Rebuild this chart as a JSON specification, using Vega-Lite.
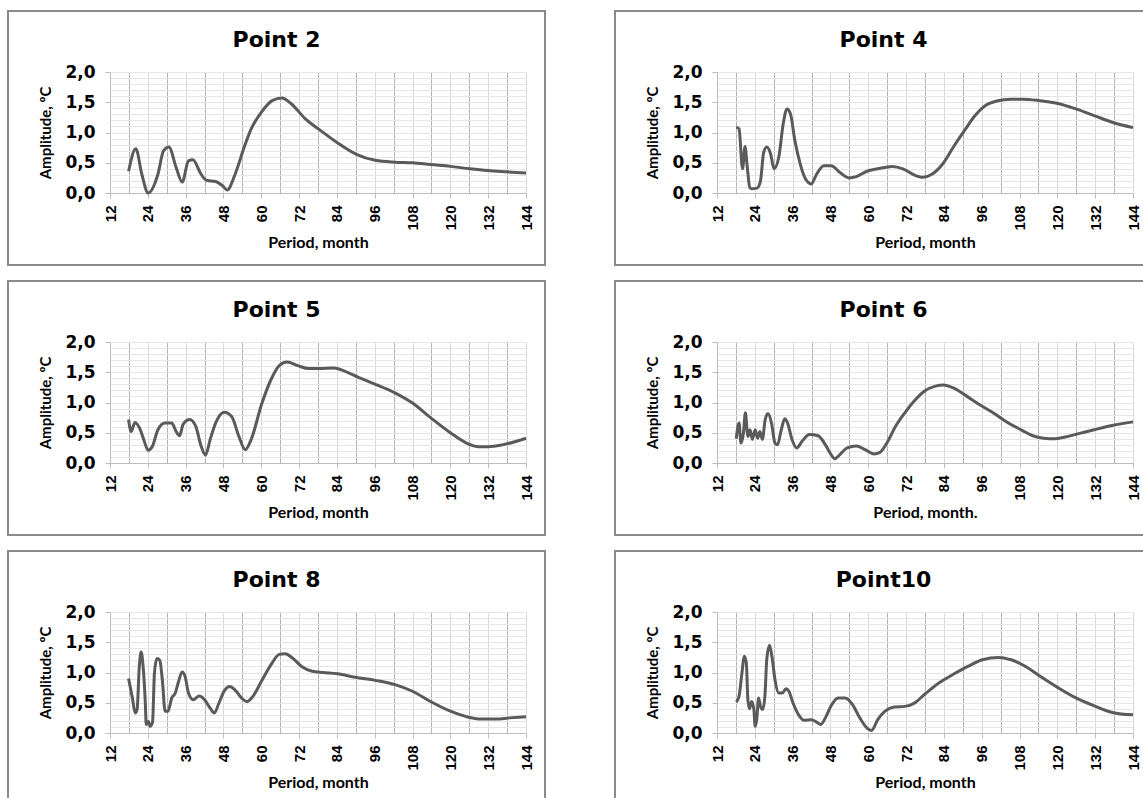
{
  "$schema": "https://vega.github.io/schema/vega-lite/v6.json",
  "background": "white",
  "padding": {"left": 7, "top": 10, "right": 0, "bottom": 0},
  "datasets": {
    "p2": [
      {"period": 17.9, "amp": 0.36}, {"period": 20.2, "amp": 0.73}, {"period": 22.1, "amp": 0.31}, {"period": 24.1, "amp": 0.0},
      {"period": 27.2, "amp": 0.31}, {"period": 29.0, "amp": 0.70}, {"period": 30.7, "amp": 0.76}, {"period": 33.0, "amp": 0.42},
      {"period": 34.9, "amp": 0.18}, {"period": 36.9, "amp": 0.53}, {"period": 38.3, "amp": 0.55}, {"period": 40.9, "amp": 0.31},
      {"period": 42.6, "amp": 0.21}, {"period": 45.5, "amp": 0.19}, {"period": 47.7, "amp": 0.12}, {"period": 49.2, "amp": 0.05},
      {"period": 51.7, "amp": 0.31}, {"period": 54.6, "amp": 0.76}, {"period": 56.8, "amp": 1.06}, {"period": 60.1, "amp": 1.34},
      {"period": 63.6, "amp": 1.53}, {"period": 66.5, "amp": 1.57}, {"period": 69.4, "amp": 1.48}, {"period": 73.9, "amp": 1.23},
      {"period": 78.1, "amp": 1.06}, {"period": 83.9, "amp": 0.84}, {"period": 90.2, "amp": 0.64}, {"period": 96.2, "amp": 0.54},
      {"period": 102.4, "amp": 0.51}, {"period": 108.0, "amp": 0.50}, {"period": 113.7, "amp": 0.47}, {"period": 120.0, "amp": 0.44},
      {"period": 126.2, "amp": 0.40}, {"period": 132.0, "amp": 0.37}, {"period": 138.0, "amp": 0.35}, {"period": 144.0, "amp": 0.33}
    ],
    "p4": [
      {"period": 18.1, "amp": 1.09}, {"period": 19.0, "amp": 1.06}, {"period": 20.1, "amp": 0.40}, {"period": 20.9, "amp": 0.77},
      {"period": 21.6, "amp": 0.43}, {"period": 22.4, "amp": 0.09}, {"period": 23.0, "amp": 0.07}, {"period": 24.7, "amp": 0.08},
      {"period": 25.8, "amp": 0.20}, {"period": 26.8, "amp": 0.67}, {"period": 27.8, "amp": 0.76}, {"period": 29.0, "amp": 0.65},
      {"period": 30.1, "amp": 0.40}, {"period": 31.6, "amp": 0.59}, {"period": 33.0, "amp": 1.14}, {"period": 34.2, "amp": 1.39},
      {"period": 35.3, "amp": 1.31}, {"period": 36.7, "amp": 0.87}, {"period": 38.4, "amp": 0.48}, {"period": 40.1, "amp": 0.23},
      {"period": 41.9, "amp": 0.15}, {"period": 43.6, "amp": 0.31}, {"period": 45.9, "amp": 0.45}, {"period": 48.2, "amp": 0.45},
      {"period": 51.0, "amp": 0.34}, {"period": 53.9, "amp": 0.25}, {"period": 56.2, "amp": 0.27}, {"period": 59.6, "amp": 0.36},
      {"period": 63.0, "amp": 0.40}, {"period": 67.6, "amp": 0.44}, {"period": 71.0, "amp": 0.40}, {"period": 74.5, "amp": 0.30},
      {"period": 77.3, "amp": 0.26}, {"period": 80.2, "amp": 0.31}, {"period": 83.6, "amp": 0.48}, {"period": 87.0, "amp": 0.76},
      {"period": 90.5, "amp": 1.03}, {"period": 93.9, "amp": 1.28}, {"period": 97.3, "amp": 1.45}, {"period": 100.8, "amp": 1.52},
      {"period": 105.3, "amp": 1.55}, {"period": 108.8, "amp": 1.55}, {"period": 113.9, "amp": 1.53}, {"period": 120.2, "amp": 1.48},
      {"period": 125.9, "amp": 1.39}, {"period": 131.7, "amp": 1.28}, {"period": 137.4, "amp": 1.17}, {"period": 144.0, "amp": 1.08}
    ],
    "p5": [
      {"period": 17.9, "amp": 0.72}, {"period": 18.7, "amp": 0.52}, {"period": 19.9, "amp": 0.67}, {"period": 21.6, "amp": 0.55},
      {"period": 22.7, "amp": 0.39}, {"period": 24.1, "amp": 0.21}, {"period": 25.5, "amp": 0.28}, {"period": 27.2, "amp": 0.55},
      {"period": 29.5, "amp": 0.66}, {"period": 31.6, "amp": 0.66}, {"period": 33.0, "amp": 0.52}, {"period": 34.1, "amp": 0.45},
      {"period": 35.2, "amp": 0.64}, {"period": 37.3, "amp": 0.72}, {"period": 39.2, "amp": 0.61}, {"period": 40.9, "amp": 0.28},
      {"period": 42.3, "amp": 0.13}, {"period": 43.8, "amp": 0.39}, {"period": 45.5, "amp": 0.66}, {"period": 48.3, "amp": 0.84},
      {"period": 50.6, "amp": 0.77}, {"period": 52.9, "amp": 0.44}, {"period": 54.9, "amp": 0.22}, {"period": 56.8, "amp": 0.39},
      {"period": 60.1, "amp": 0.97}, {"period": 63.1, "amp": 1.38}, {"period": 65.7, "amp": 1.61}, {"period": 68.2, "amp": 1.67},
      {"period": 71.6, "amp": 1.61}, {"period": 75.0, "amp": 1.56}, {"period": 78.4, "amp": 1.56}, {"period": 83.0, "amp": 1.57},
      {"period": 86.4, "amp": 1.52}, {"period": 91.0, "amp": 1.41}, {"period": 96.2, "amp": 1.30}, {"period": 102.4, "amp": 1.16},
      {"period": 108.0, "amp": 0.99}, {"period": 113.7, "amp": 0.75}, {"period": 120.0, "amp": 0.50}, {"period": 125.1, "amp": 0.33},
      {"period": 129.1, "amp": 0.27}, {"period": 132.0, "amp": 0.27}, {"period": 136.5, "amp": 0.30}, {"period": 144.0, "amp": 0.41}
    ],
    "p6": [
      {"period": 18.1, "amp": 0.40}, {"period": 19.0, "amp": 0.66}, {"period": 19.6, "amp": 0.33}, {"period": 20.4, "amp": 0.50},
      {"period": 21.0, "amp": 0.83}, {"period": 21.8, "amp": 0.44}, {"period": 22.5, "amp": 0.55}, {"period": 23.2, "amp": 0.39},
      {"period": 24.1, "amp": 0.55}, {"period": 24.9, "amp": 0.41}, {"period": 25.6, "amp": 0.52}, {"period": 26.4, "amp": 0.39},
      {"period": 27.3, "amp": 0.72}, {"period": 28.2, "amp": 0.82}, {"period": 29.3, "amp": 0.66}, {"period": 30.4, "amp": 0.33},
      {"period": 31.2, "amp": 0.30}, {"period": 32.4, "amp": 0.55}, {"period": 33.5, "amp": 0.73}, {"period": 34.4, "amp": 0.66},
      {"period": 35.8, "amp": 0.39}, {"period": 37.3, "amp": 0.25}, {"period": 39.0, "amp": 0.36}, {"period": 41.3, "amp": 0.47},
      {"period": 44.1, "amp": 0.45}, {"period": 46.4, "amp": 0.30}, {"period": 48.2, "amp": 0.14}, {"period": 49.3, "amp": 0.07},
      {"period": 51.0, "amp": 0.14}, {"period": 53.3, "amp": 0.25}, {"period": 56.2, "amp": 0.28}, {"period": 59.0, "amp": 0.22},
      {"period": 61.9, "amp": 0.15}, {"period": 63.6, "amp": 0.17}, {"period": 65.9, "amp": 0.33}, {"period": 68.7, "amp": 0.61},
      {"period": 71.6, "amp": 0.83}, {"period": 74.5, "amp": 1.02}, {"period": 77.9, "amp": 1.19}, {"period": 81.3, "amp": 1.27},
      {"period": 83.8, "amp": 1.29}, {"period": 87.0, "amp": 1.24}, {"period": 90.5, "amp": 1.13}, {"period": 95.1, "amp": 0.97},
      {"period": 99.6, "amp": 0.83}, {"period": 104.2, "amp": 0.67}, {"period": 108.8, "amp": 0.54}, {"period": 112.2, "amp": 0.45},
      {"period": 115.6, "amp": 0.41}, {"period": 119.1, "amp": 0.40}, {"period": 122.5, "amp": 0.43}, {"period": 127.1, "amp": 0.49},
      {"period": 131.7, "amp": 0.55}, {"period": 137.4, "amp": 0.62}, {"period": 144.0, "amp": 0.68}
    ],
    "p8": [
      {"period": 17.9, "amp": 0.90}, {"period": 19.1, "amp": 0.58}, {"period": 20.0, "amp": 0.33}, {"period": 20.6, "amp": 0.39},
      {"period": 21.3, "amp": 1.10}, {"period": 21.9, "amp": 1.34}, {"period": 22.5, "amp": 1.10}, {"period": 23.2, "amp": 0.50},
      {"period": 23.5, "amp": 0.14}, {"period": 24.2, "amp": 0.19}, {"period": 24.7, "amp": 0.11}, {"period": 25.5, "amp": 0.18},
      {"period": 26.1, "amp": 0.99}, {"period": 26.9, "amp": 1.23}, {"period": 27.8, "amp": 1.20}, {"period": 28.6, "amp": 0.88},
      {"period": 29.5, "amp": 0.36}, {"period": 30.4, "amp": 0.36}, {"period": 31.6, "amp": 0.58}, {"period": 32.7, "amp": 0.66},
      {"period": 33.8, "amp": 0.86}, {"period": 34.9, "amp": 1.01}, {"period": 35.8, "amp": 0.94}, {"period": 36.9, "amp": 0.66},
      {"period": 38.4, "amp": 0.55}, {"period": 40.3, "amp": 0.61}, {"period": 42.0, "amp": 0.55}, {"period": 43.8, "amp": 0.41},
      {"period": 45.1, "amp": 0.33}, {"period": 46.6, "amp": 0.50}, {"period": 48.3, "amp": 0.70}, {"period": 50.0, "amp": 0.77},
      {"period": 51.7, "amp": 0.71}, {"period": 53.7, "amp": 0.58}, {"period": 55.5, "amp": 0.52}, {"period": 57.4, "amp": 0.61},
      {"period": 60.1, "amp": 0.86}, {"period": 63.1, "amp": 1.13}, {"period": 65.7, "amp": 1.30}, {"period": 67.6, "amp": 1.31},
      {"period": 69.9, "amp": 1.24}, {"period": 72.8, "amp": 1.10}, {"period": 76.2, "amp": 1.02}, {"period": 79.6, "amp": 1.00},
      {"period": 84.2, "amp": 0.98}, {"period": 89.8, "amp": 0.92}, {"period": 96.2, "amp": 0.87}, {"period": 102.4, "amp": 0.80},
      {"period": 108.0, "amp": 0.69}, {"period": 113.7, "amp": 0.52}, {"period": 120.0, "amp": 0.36}, {"period": 125.1, "amp": 0.27},
      {"period": 129.7, "amp": 0.23}, {"period": 134.3, "amp": 0.23}, {"period": 138.8, "amp": 0.25}, {"period": 144.0, "amp": 0.27}
    ],
    "p10": [
      {"period": 18.1, "amp": 0.51}, {"period": 19.0, "amp": 0.61}, {"period": 19.8, "amp": 0.94}, {"period": 20.7, "amp": 1.27},
      {"period": 21.3, "amp": 1.16}, {"period": 21.8, "amp": 0.55}, {"period": 22.3, "amp": 0.40}, {"period": 23.0, "amp": 0.52},
      {"period": 23.7, "amp": 0.39}, {"period": 24.1, "amp": 0.11}, {"period": 24.6, "amp": 0.22}, {"period": 25.2, "amp": 0.58},
      {"period": 25.8, "amp": 0.44}, {"period": 26.5, "amp": 0.39}, {"period": 27.2, "amp": 0.61}, {"period": 27.8, "amp": 1.22},
      {"period": 28.7, "amp": 1.45}, {"period": 29.5, "amp": 1.24}, {"period": 30.4, "amp": 0.88}, {"period": 31.6, "amp": 0.66},
      {"period": 32.7, "amp": 0.66}, {"period": 33.9, "amp": 0.73}, {"period": 34.8, "amp": 0.69}, {"period": 36.1, "amp": 0.50},
      {"period": 37.9, "amp": 0.30}, {"period": 39.6, "amp": 0.21}, {"period": 41.9, "amp": 0.22}, {"period": 43.6, "amp": 0.18},
      {"period": 44.9, "amp": 0.14}, {"period": 46.4, "amp": 0.25}, {"period": 48.2, "amp": 0.45}, {"period": 50.4, "amp": 0.58},
      {"period": 52.7, "amp": 0.58}, {"period": 55.0, "amp": 0.47}, {"period": 57.3, "amp": 0.25}, {"period": 59.6, "amp": 0.08},
      {"period": 61.0, "amp": 0.04}, {"period": 63.0, "amp": 0.22}, {"period": 65.3, "amp": 0.36}, {"period": 68.2, "amp": 0.43},
      {"period": 71.6, "amp": 0.44}, {"period": 74.5, "amp": 0.49}, {"period": 77.9, "amp": 0.64}, {"period": 82.5, "amp": 0.83},
      {"period": 87.0, "amp": 0.97}, {"period": 91.6, "amp": 1.10}, {"period": 96.2, "amp": 1.21}, {"period": 101.3, "amp": 1.25},
      {"period": 105.3, "amp": 1.21}, {"period": 109.9, "amp": 1.10}, {"period": 114.5, "amp": 0.94}, {"period": 120.2, "amp": 0.75},
      {"period": 125.9, "amp": 0.58}, {"period": 131.7, "amp": 0.45}, {"period": 137.4, "amp": 0.34}, {"period": 144.0, "amp": 0.30}
    ]
  },
  "columns": 2,
  "spacing": {"row": 14, "column": 68},
  "concat": [
    {
      "width": 537, "height": 254, "title": {"text": "Point 2"}, "data": {"name": "p2"},
      "resolve": {"axis": {"x": "independent", "y": "independent"}},
      "layer": [
        {"mark": {"type": "line", "interpolate": "monotone", "strokeOpacity": 0},
         "encoding": {
          "x": {"field": "period", "type": "quantitative", "scale": {"domain": [12, 144], "range": [102, 518], "nice": false, "zero": false},
            "axis": {"orient": "top", "offset": 0, "grid": true, "domain": false, "ticks": false, "labels": false, "title": null,
              "values": [12,18,24,30,36,42,48,54,60,66,72,78,84,90,96,102,108,114,120,126,132,138,144],
              "gridColor": {"condition": {"test": "datum.value % 12 === 6", "value": "#b3b3b3"}, "value": "#d9d9d9"}}},
          "y": {"field": "amp", "type": "quantitative", "scale": {"domain": [0, 2], "range": [182, 61], "nice": false},
            "axis": {"orient": "left", "offset": 0, "grid": true, "domain": false, "ticks": false, "labels": false, "title": null,
              "values": [0,0.1,0.2,0.3,0.4,0.5,0.6,0.7,0.8,0.9,1,1.1,1.2,1.3,1.4,1.5,1.6,1.7,1.8,1.9,2], "gridColor": "#e6e6e6"}}}},
        {"mark": {"type": "line", "interpolate": "monotone", "color": "#5a5a5a", "strokeWidth": 3},
         "encoding": {
          "x": {"field": "period", "type": "quantitative", "scale": {"domain": [12, 144], "range": [102, 518], "nice": false, "zero": false},
            "axis": {"orient": "bottom", "offset": -72, "title": "Period, month", "grid": false, "values": [12,24,36,48,60,72,84,96,108,120,132,144]}},
          "y": {"field": "amp", "type": "quantitative", "scale": {"domain": [0, 2], "range": [182, 61], "nice": false},
            "axis": {"orient": "left", "offset": -102, "title": "Amplitude, ºC", "grid": false, "values": [0,0.5,1,1.5,2]}}}}
      ]
    },
    {
      "width": 537, "height": 254, "title": {"text": "Point 4"}, "data": {"name": "p4"},
      "resolve": {"axis": {"x": "independent", "y": "independent"}},
      "layer": [
        {"mark": {"type": "line", "interpolate": "monotone", "strokeOpacity": 0},
         "encoding": {
          "x": {"field": "period", "type": "quantitative", "scale": {"domain": [12, 144], "range": [102, 518], "nice": false, "zero": false},
            "axis": {"orient": "top", "offset": 0, "grid": true, "domain": false, "ticks": false, "labels": false, "title": null,
              "values": [12,18,24,30,36,42,48,54,60,66,72,78,84,90,96,102,108,114,120,126,132,138,144],
              "gridColor": {"condition": {"test": "datum.value % 12 === 6", "value": "#b3b3b3"}, "value": "#d9d9d9"}}},
          "y": {"field": "amp", "type": "quantitative", "scale": {"domain": [0, 2], "range": [182, 61], "nice": false},
            "axis": {"orient": "left", "offset": 0, "grid": true, "domain": false, "ticks": false, "labels": false, "title": null,
              "values": [0,0.1,0.2,0.3,0.4,0.5,0.6,0.7,0.8,0.9,1,1.1,1.2,1.3,1.4,1.5,1.6,1.7,1.8,1.9,2], "gridColor": "#e6e6e6"}}}},
        {"mark": {"type": "line", "interpolate": "monotone", "color": "#5a5a5a", "strokeWidth": 3},
         "encoding": {
          "x": {"field": "period", "type": "quantitative", "scale": {"domain": [12, 144], "range": [102, 518], "nice": false, "zero": false},
            "axis": {"orient": "bottom", "offset": -72, "title": "Period, month", "grid": false, "values": [12,24,36,48,60,72,84,96,108,120,132,144]}},
          "y": {"field": "amp", "type": "quantitative", "scale": {"domain": [0, 2], "range": [182, 61], "nice": false},
            "axis": {"orient": "left", "offset": -102, "title": "Amplitude, ºC", "grid": false, "values": [0,0.5,1,1.5,2]}}}}
      ]
    },
    {
      "width": 537, "height": 254, "title": {"text": "Point 5"}, "data": {"name": "p5"},
      "resolve": {"axis": {"x": "independent", "y": "independent"}},
      "layer": [
        {"mark": {"type": "line", "interpolate": "monotone", "strokeOpacity": 0},
         "encoding": {
          "x": {"field": "period", "type": "quantitative", "scale": {"domain": [12, 144], "range": [102, 518], "nice": false, "zero": false},
            "axis": {"orient": "top", "offset": 0, "grid": true, "domain": false, "ticks": false, "labels": false, "title": null,
              "values": [12,18,24,30,36,42,48,54,60,66,72,78,84,90,96,102,108,114,120,126,132,138,144],
              "gridColor": {"condition": {"test": "datum.value % 12 === 6", "value": "#b3b3b3"}, "value": "#d9d9d9"}}},
          "y": {"field": "amp", "type": "quantitative", "scale": {"domain": [0, 2], "range": [182, 61], "nice": false},
            "axis": {"orient": "left", "offset": 0, "grid": true, "domain": false, "ticks": false, "labels": false, "title": null,
              "values": [0,0.1,0.2,0.3,0.4,0.5,0.6,0.7,0.8,0.9,1,1.1,1.2,1.3,1.4,1.5,1.6,1.7,1.8,1.9,2], "gridColor": "#e6e6e6"}}}},
        {"mark": {"type": "line", "interpolate": "monotone", "color": "#5a5a5a", "strokeWidth": 3},
         "encoding": {
          "x": {"field": "period", "type": "quantitative", "scale": {"domain": [12, 144], "range": [102, 518], "nice": false, "zero": false},
            "axis": {"orient": "bottom", "offset": -72, "title": "Period, month", "grid": false, "values": [12,24,36,48,60,72,84,96,108,120,132,144]}},
          "y": {"field": "amp", "type": "quantitative", "scale": {"domain": [0, 2], "range": [182, 61], "nice": false},
            "axis": {"orient": "left", "offset": -102, "title": "Amplitude, ºC", "grid": false, "values": [0,0.5,1,1.5,2]}}}}
      ]
    },
    {
      "width": 537, "height": 254, "title": {"text": "Point 6"}, "data": {"name": "p6"},
      "resolve": {"axis": {"x": "independent", "y": "independent"}},
      "layer": [
        {"mark": {"type": "line", "interpolate": "monotone", "strokeOpacity": 0},
         "encoding": {
          "x": {"field": "period", "type": "quantitative", "scale": {"domain": [12, 144], "range": [102, 518], "nice": false, "zero": false},
            "axis": {"orient": "top", "offset": 0, "grid": true, "domain": false, "ticks": false, "labels": false, "title": null,
              "values": [12,18,24,30,36,42,48,54,60,66,72,78,84,90,96,102,108,114,120,126,132,138,144],
              "gridColor": {"condition": {"test": "datum.value % 12 === 6", "value": "#b3b3b3"}, "value": "#d9d9d9"}}},
          "y": {"field": "amp", "type": "quantitative", "scale": {"domain": [0, 2], "range": [182, 61], "nice": false},
            "axis": {"orient": "left", "offset": 0, "grid": true, "domain": false, "ticks": false, "labels": false, "title": null,
              "values": [0,0.1,0.2,0.3,0.4,0.5,0.6,0.7,0.8,0.9,1,1.1,1.2,1.3,1.4,1.5,1.6,1.7,1.8,1.9,2], "gridColor": "#e6e6e6"}}}},
        {"mark": {"type": "line", "interpolate": "monotone", "color": "#5a5a5a", "strokeWidth": 3},
         "encoding": {
          "x": {"field": "period", "type": "quantitative", "scale": {"domain": [12, 144], "range": [102, 518], "nice": false, "zero": false},
            "axis": {"orient": "bottom", "offset": -72, "title": "Period, month.", "grid": false, "values": [12,24,36,48,60,72,84,96,108,120,132,144]}},
          "y": {"field": "amp", "type": "quantitative", "scale": {"domain": [0, 2], "range": [182, 61], "nice": false},
            "axis": {"orient": "left", "offset": -102, "title": "Amplitude, ºC", "grid": false, "values": [0,0.5,1,1.5,2]}}}}
      ]
    },
    {
      "width": 537, "height": 254, "title": {"text": "Point 8"}, "data": {"name": "p8"},
      "resolve": {"axis": {"x": "independent", "y": "independent"}},
      "layer": [
        {"mark": {"type": "line", "interpolate": "monotone", "strokeOpacity": 0},
         "encoding": {
          "x": {"field": "period", "type": "quantitative", "scale": {"domain": [12, 144], "range": [102, 518], "nice": false, "zero": false},
            "axis": {"orient": "top", "offset": 0, "grid": true, "domain": false, "ticks": false, "labels": false, "title": null,
              "values": [12,18,24,30,36,42,48,54,60,66,72,78,84,90,96,102,108,114,120,126,132,138,144],
              "gridColor": {"condition": {"test": "datum.value % 12 === 6", "value": "#b3b3b3"}, "value": "#d9d9d9"}}},
          "y": {"field": "amp", "type": "quantitative", "scale": {"domain": [0, 2], "range": [182, 61], "nice": false},
            "axis": {"orient": "left", "offset": 0, "grid": true, "domain": false, "ticks": false, "labels": false, "title": null,
              "values": [0,0.1,0.2,0.3,0.4,0.5,0.6,0.7,0.8,0.9,1,1.1,1.2,1.3,1.4,1.5,1.6,1.7,1.8,1.9,2], "gridColor": "#e6e6e6"}}}},
        {"mark": {"type": "line", "interpolate": "monotone", "color": "#5a5a5a", "strokeWidth": 3},
         "encoding": {
          "x": {"field": "period", "type": "quantitative", "scale": {"domain": [12, 144], "range": [102, 518], "nice": false, "zero": false},
            "axis": {"orient": "bottom", "offset": -72, "title": "Period, month", "grid": false, "values": [12,24,36,48,60,72,84,96,108,120,132,144]}},
          "y": {"field": "amp", "type": "quantitative", "scale": {"domain": [0, 2], "range": [182, 61], "nice": false},
            "axis": {"orient": "left", "offset": -102, "title": "Amplitude, ºC", "grid": false, "values": [0,0.5,1,1.5,2]}}}}
      ]
    },
    {
      "width": 537, "height": 254, "title": {"text": "Point10"}, "data": {"name": "p10"},
      "resolve": {"axis": {"x": "independent", "y": "independent"}},
      "layer": [
        {"mark": {"type": "line", "interpolate": "monotone", "strokeOpacity": 0},
         "encoding": {
          "x": {"field": "period", "type": "quantitative", "scale": {"domain": [12, 144], "range": [102, 518], "nice": false, "zero": false},
            "axis": {"orient": "top", "offset": 0, "grid": true, "domain": false, "ticks": false, "labels": false, "title": null,
              "values": [12,18,24,30,36,42,48,54,60,66,72,78,84,90,96,102,108,114,120,126,132,138,144],
              "gridColor": {"condition": {"test": "datum.value % 12 === 6", "value": "#b3b3b3"}, "value": "#d9d9d9"}}},
          "y": {"field": "amp", "type": "quantitative", "scale": {"domain": [0, 2], "range": [182, 61], "nice": false},
            "axis": {"orient": "left", "offset": 0, "grid": true, "domain": false, "ticks": false, "labels": false, "title": null,
              "values": [0,0.1,0.2,0.3,0.4,0.5,0.6,0.7,0.8,0.9,1,1.1,1.2,1.3,1.4,1.5,1.6,1.7,1.8,1.9,2], "gridColor": "#e6e6e6"}}}},
        {"mark": {"type": "line", "interpolate": "monotone", "color": "#5a5a5a", "strokeWidth": 3},
         "encoding": {
          "x": {"field": "period", "type": "quantitative", "scale": {"domain": [12, 144], "range": [102, 518], "nice": false, "zero": false},
            "axis": {"orient": "bottom", "offset": -72, "title": "Period, month", "grid": false, "values": [12,24,36,48,60,72,84,96,108,120,132,144]}},
          "y": {"field": "amp", "type": "quantitative", "scale": {"domain": [0, 2], "range": [182, 61], "nice": false},
            "axis": {"orient": "left", "offset": -102, "title": "Amplitude, ºC", "grid": false, "values": [0,0.5,1,1.5,2]}}}}
      ]
    }
  ],
  "config": {
    "view": {"stroke": "#8a8a8a", "strokeWidth": 2},
    "title": {"font": "DejaVu Sans", "fontSize": 22, "fontWeight": "bold", "color": "#000000", "anchor": "middle", "offset": -41, "baseline": "alphabetic"},
    "axis": {"domainColor": "#bdbdbd", "tickColor": "#bdbdbd", "tickSize": 5, "labelColor": "#000000", "titleColor": "#000000"},
    "axisBottom": {"labelAngle": -90, "labelFont": "Liberation Sans", "labelFontWeight": "bold", "labelFontSize": 15,
      "labelFlush": false, "labelOverlap": false, "labelPadding": 7, "titleFont": "Lato", "titleFontSize": 16, "titleFontWeight": "bold", "titlePadding": 4},
    "axisLeft": {"labelFont": "DejaVu Sans", "labelFontWeight": "bold", "labelFontSize": 17, "labelOverlap": false,
      "labelPadding": 10, "labelExpr": "replace(format(datum.value, '.1f'), '.', ',')", "titleFont": "Lato", "titleFontSize": 15, "titleFontWeight": "bold", "titlePadding": 11}
  }
}
